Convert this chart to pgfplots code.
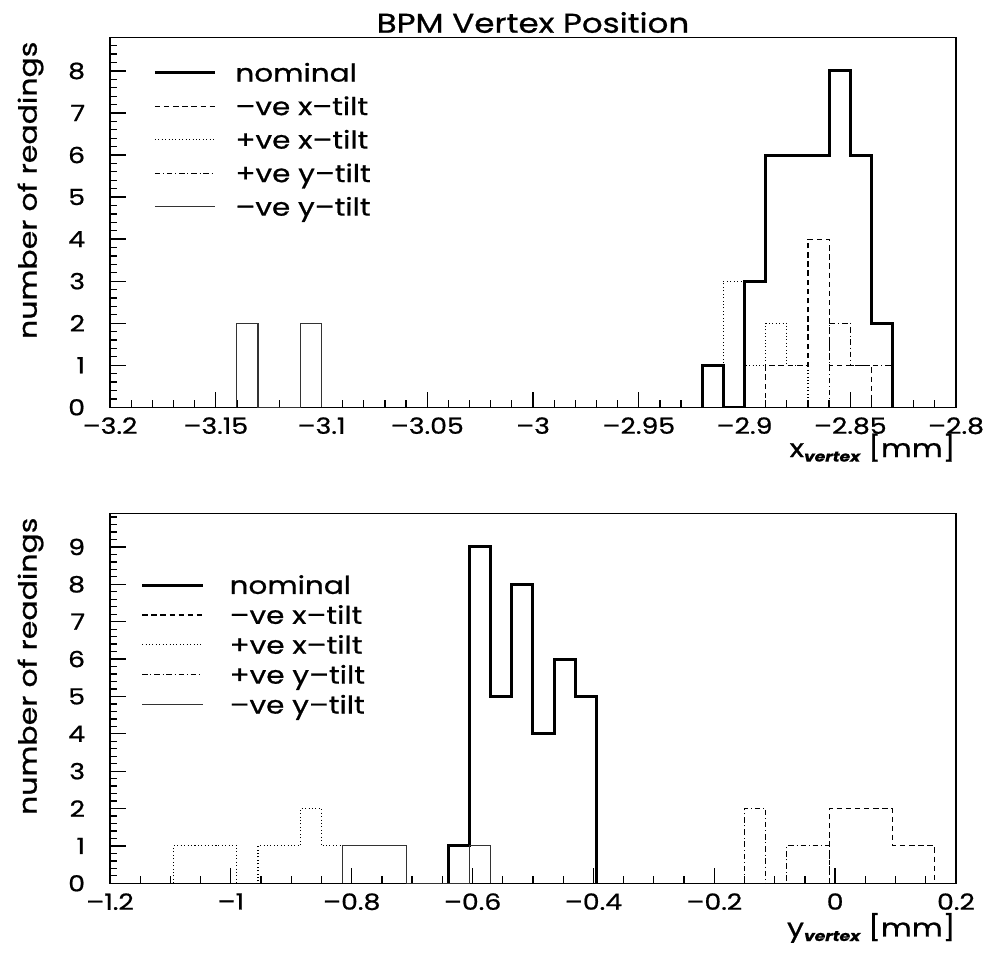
\documentclass[border=0pt]{standalone}
\usepackage{fontspec}
\setmainfont{Poppins}[FakeStretch=1.2, FakeBold=0.8]
\usepackage{pgfplots}
\pgfplotsset{compat=1.18}
\newcommand\fs[1]{\fontsize{#1}{#1}\selectfont}
\pgfplotsset{
  rootaxis/.style={
    scale only axis, width=296.1pt, height=129.5pt,
    anchor=south west,
    axis line style={line width=0.5pt},
    tick align=inside, tick pos=left,
    major tick length=5.5pt, minor tick length=2.6pt,
    every tick/.style={black, line width=0.45pt},
    ymin=0,
    xticklabel style={font=\fs{7.8pt}},
    yticklabel style={font=\fs{7.8pt}, xshift=-5.2pt},
    ylabel={number of readings},
    ylabel style={at={(axis description cs:-0.0866,0.99)}, anchor=base east, inner sep=0pt, font=\fs{8.75pt}},
    xlabel style={at={(axis description cs:1,0)}, anchor=base east, inner sep=0pt, font=\fs{8.75pt}},
    legend cell align=left,
    legend image code/.code={\draw[##1] (0pt,0pt) -- (21.2pt,0pt);},
  },
  nomst/.style={black, line width=1.05pt, const plot mark left},
  mxst/.style={black, line width=0.4pt, dash pattern=on 1.9pt off 1.3pt, const plot mark left},
  pxst/.style={black, line width=0.4pt, dash pattern=on 0.35pt off 0.85pt, const plot mark left},
  pyst/.style={black, line width=0.4pt, dash pattern=on 1.9pt off 1pt on 0.35pt off 1pt, const plot mark left},
  myst/.style={black!80, line width=0.4pt, const plot mark left},
}
\begin{document}
\begin{tikzpicture}
\useasboundingbox (0,0) rectangle (346.15pt,-333.55pt);
% ---------------- top: x vertex ----------------
\begin{axis}[rootaxis,
  at={(38.5pt,-142.555pt)},
  xmin=-3.2, xmax=-2.8, ymax=8.8,
  xtick={-3.2,-3.15,-3.1,-3.05,-3,-2.95,-2.9,-2.85,-2.8},
  xticklabels={–3.2,–3.15,–3.1,–3.05,–3,–2.95,–2.9,–2.85,–2.8},
  minor x tick num=4,
  ytick={0,1,2,3,4,5,6,7,8},
  yticklabels={0,1,2,3,4,5,6,7,8},
  minor ytick={0.2,0.4,...,8.8},
  title={BPM Vertex Position},
  title style={at={(axis description cs:0.5,1)}, anchor=base, yshift=-4.4pt, inner sep=0pt, font=\fs{9.5pt}},
  xlabel={x\raisebox{-1.6pt}{\fs{5pt}\bfseries\itshape vertex} [mm]},
  xlabel style={yshift=-17.4pt},
  legend style={draw=none, fill=none, at={(0.0505,0.9297)}, anchor=north west,
    inner sep=0pt, row sep=5.53pt, column sep=6.5pt, font=\fs{8.6pt},
    nodes={inner sep=0pt, text height=6.2pt, text depth=0pt}},
]
\addplot[nomst] coordinates {(-2.92,0) (-2.92,1) (-2.91,0) (-2.90,3) (-2.89,6) (-2.88,6) (-2.87,6) (-2.86,8) (-2.85,6) (-2.84,2) (-2.83,0)};
\addlegendentry{nominal}
\addplot[mxst] coordinates {(-2.89,0) (-2.89,1) (-2.88,1) (-2.87,4) (-2.86,1) (-2.85,1) (-2.84,0)};
\addlegendentry{–ve x–tilt}
\addplot[pxst] coordinates {(-2.92,0) (-2.92,1) (-2.91,3) (-2.90,1) (-2.89,2) (-2.88,1) (-2.87,0)};
\addlegendentry{+ve x–tilt}
\addplot[pyst] coordinates {(-2.86,0) (-2.86,2) (-2.85,1) (-2.84,1) (-2.83,0)};
\addlegendentry{+ve y–tilt}
\addplot[myst] coordinates {(-3.14,0) (-3.14,2) (-3.13,0) (-3.11,2) (-3.10,0)};
\addlegendentry{–ve y–tilt}
\end{axis}
% ---------------- bottom: y vertex ----------------
\begin{axis}[rootaxis,
  at={(38.5pt,-309.155pt)},
  xmin=-1.2, xmax=0.2, ymax=9.9,
  xtick={-1.2,-1,-0.8,-0.6,-0.4,-0.2,0,0.2},
  xticklabels={–1.2,–1,–0.8,–0.6,–0.4,–0.2,0,0.2},
  minor x tick num=3,
  ytick={0,1,2,3,4,5,6,7,8,9},
  yticklabels={0,1,2,3,4,5,6,7,8,9},
  minor ytick={0.2,0.4,...,9.8},
  xlabel={y\raisebox{-1.6pt}{\fs{5pt}\bfseries\itshape vertex} [mm]},
  xlabel style={yshift=-18.6pt},
  legend style={draw=none, fill=none, at={(0.0355,0.8316)}, anchor=north west,
    inner sep=0pt, row sep=4.27pt, column sep=8.9pt, font=\fs{8.6pt},
    nodes={inner sep=0pt, text height=6.2pt, text depth=0pt}},
]
\addplot[nomst] coordinates {(-0.64,0) (-0.64,1) (-0.605,9) (-0.57,5) (-0.535,8) (-0.5,4) (-0.465,6) (-0.43,5) (-0.395,0)};
\addlegendentry{nominal}
\addplot[mxst] coordinates {(-0.01,0) (-0.01,2) (0.025,2) (0.06,2) (0.095,1) (0.13,1) (0.165,0)};
\addlegendentry{–ve x–tilt}
\addplot[pxst] coordinates {(-1.095,0) (-1.095,1) (-1.06,1) (-1.025,1) (-0.99,0) (-0.955,1) (-0.92,1) (-0.885,2) (-0.85,1) (-0.815,0)};
\addlegendentry{+ve x–tilt}
\addplot[pyst] coordinates {(-0.15,0) (-0.15,2) (-0.115,0) (-0.08,1) (-0.045,1) (-0.01,0)};
\addlegendentry{+ve y–tilt}
\addplot[myst] coordinates {(-0.815,0) (-0.815,1) (-0.78,1) (-0.745,1) (-0.71,0) (-0.605,1) (-0.57,0)};
\addlegendentry{–ve y–tilt}
\end{axis}
\end{tikzpicture}
\end{document}
